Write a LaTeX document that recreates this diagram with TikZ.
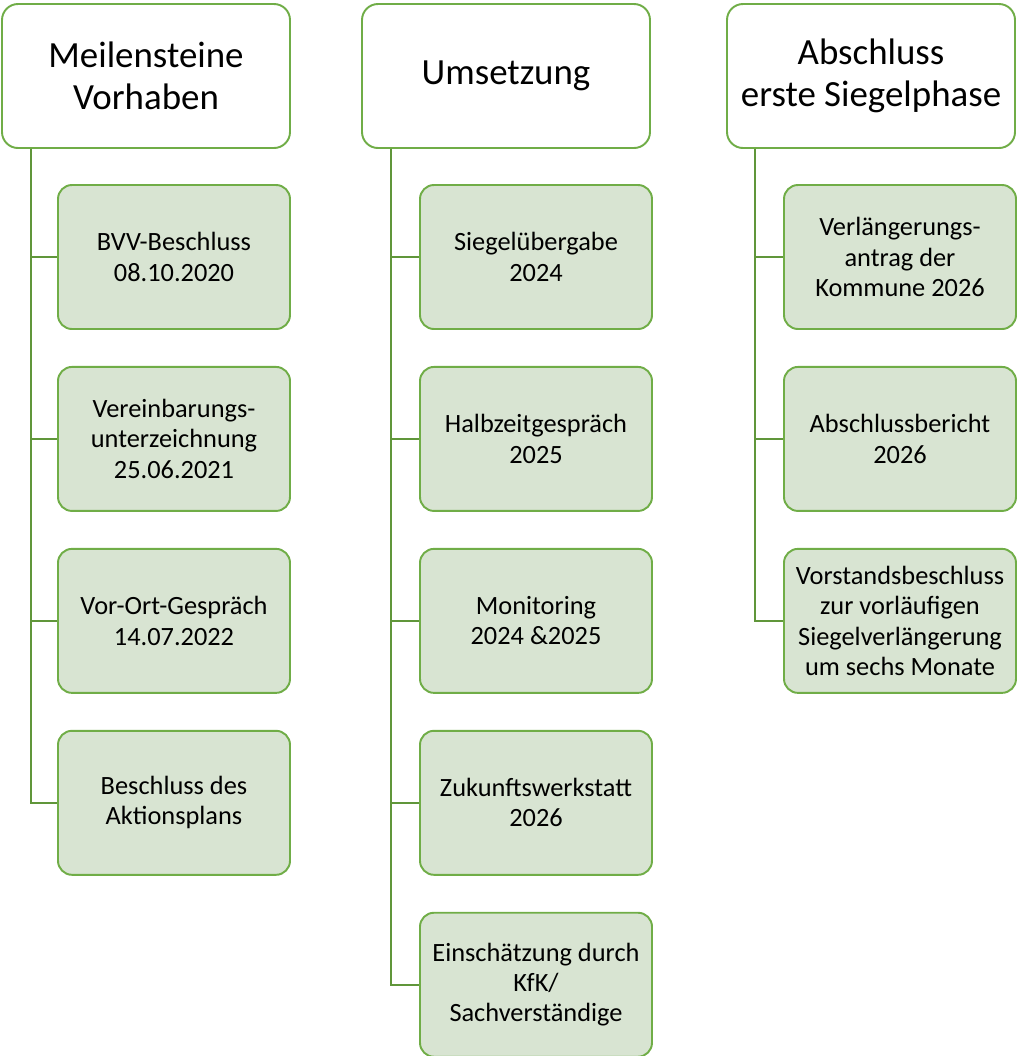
\documentclass[tikz,border=0pt]{standalone}
\usepackage{fontspec}
\setmainfont{Carlito}
\usetikzlibrary{positioning}

\definecolor{boxline}{RGB}{112,173,71}
\definecolor{boxfill}{RGB}{216,228,210}
\definecolor{linkline}{RGB}{96,150,58}

\begin{document}
\begin{tikzpicture}[node distance=0.72cm,
    head/.style={draw=boxline, line width=1.1pt, rounded corners=0.32cm, fill=white,
        minimum width=5.76cm, minimum height=2.88cm, align=center, font=\fontsize{21}{24}\selectfont},
    item/.style={draw=boxline, line width=1.1pt, rounded corners=0.28cm, fill=boxfill,
        minimum width=4.64cm, minimum height=2.88cm, align=center, font=\fontsize{15}{17.2}\selectfont},
    link/.style={draw=linkline, line width=1.1pt}]
    \useasboundingbox (0,0) rectangle (20.36,-21.12);

    \node[head] (m) at (2.92,-1.52) {Meilensteine\\Vorhaben};
    \node[item] (m1) at (3.48,-5.14) {BVV-Beschluss\\08.10.2020};
    \node[item] (m2) [below=of m1] {Vereinbarungs-\\unterzeichnung\\25.06.2021};
    \node[item] (m3) [below=of m2] {Vor-Ort-Gespräch\\14.07.2022};
    \node[item] (m4) [below=of m3] {Beschluss des\\Aktionsplans};

    \node[head] (u) at (10.12,-1.52) {Umsetzung};
    \node[item] (u1) at (10.72,-5.14) {Siegelübergabe\\2024};
    \node[item] (u2) [below=of u1] {Halbzeitgespräch\\2025};
    \node[item] (u3) [below=of u2] {Monitoring\\2024 \&2025};
    \node[item] (u4) [below=of u3] {Zukunftswerkstatt\\2026};
    \node[item] (u5) [below=of u4] {Einschätzung durch\\KfK/\\Sachverständige};

    \node[head] (a) at (17.42,-1.52) {Abschluss\\erste Siegelphase};
    \node[item] (a1) at (18.0,-5.14) {Verlängerungs-\\antrag der\\Kommune 2026};
    \node[item] (a2) [below=of a1] {Abschlussbericht\\2026};
    \node[item] (a3) [below=of a2] {Vorstandsbeschluss\\zur vorläufigen\\Siegelverlängerung\\um sechs Monate};

    % connectors
    \foreach \c in {m1,m2,m3,m4}
        \draw[link] ([xshift=6mm]m.south west) |- (\c.west);
    \foreach \c in {u1,u2,u3,u4,u5}
        \draw[link] ([xshift=6mm]u.south west) |- (\c.west);
    \foreach \c in {a1,a2,a3}
        \draw[link] ([xshift=5.8mm]a.south west) |- (\c.west);
\end{tikzpicture}
\end{document}
